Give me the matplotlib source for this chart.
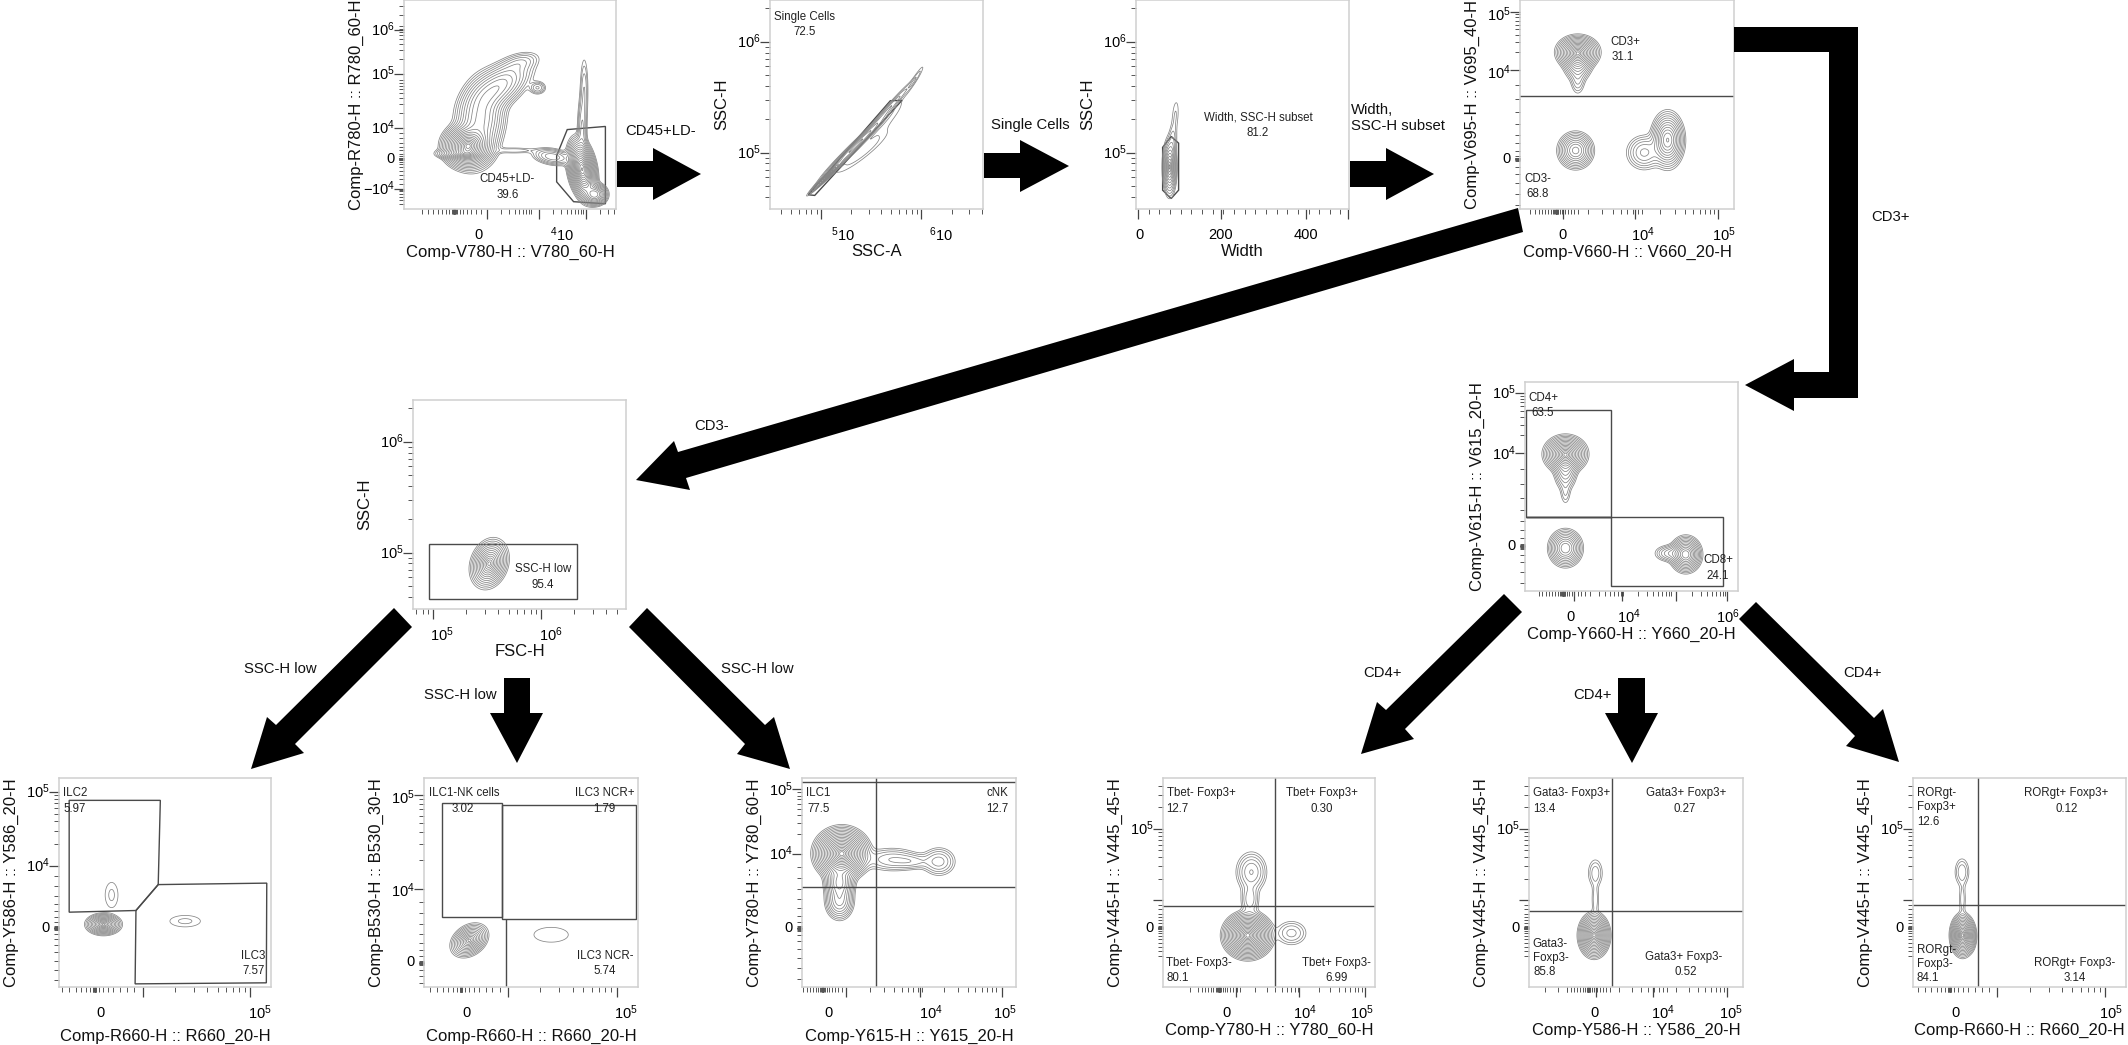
import numpy as np
import matplotlib
matplotlib.use('Agg')
import matplotlib.pyplot as plt
from matplotlib.patches import Polygon

W, H = 2128, 1045
plt.rcParams['font.family'] = ['Liberation Sans', 'DejaVu Sans']
plt.rcParams['mathtext.fontset'] = 'custom'
plt.rcParams['mathtext.rm'] = 'Liberation Sans'

E4, E5, E6 = r'$\mathregular{10^{4}}$', r'$\mathregular{10^{5}}$', r'$\mathregular{10^{6}}$'
E4L, E5L, E6L = r'$\mathregular{^{4}10}$', r'$\mathregular{^{5}10}$', r'$\mathregular{^{6}10}$'
NEG4 = '\u2212' + E4

# populations: centre x, centre y, spread x, spread y, weight, correlation
P1_POPS = [(.27, .265, .05, .012, .2, 0), (.30, .30, .045, .04, 1.0, 0), (.36, .42, .05, .09, .25, .2),
           (.44, .58, .07, .06, .22, .6), (.63, .58, .02, .016, .05, 0), (.55, .70, .045, .025, .035, .4),
           (.85, .57, .011, .09, .03, 0), (.84, .37, .012, .09, .05, 0), (.84, .19, .026, .055, 1.0, -.3),
           (.90, .07, .025, .022, .35, 0), (.70, .25, .045, .02, .09, -.3), (.52, .28, .06, .009, .02, 0)]
P2_POPS = [(.27, .16, .035, .035, 1.0, .985), (.40, .30, .07, .07, .6, .985), (.55, .47, .06, .07, .2, .985),
           (.68, .62, .025, .04, .06, .96), (.43, .27, .08, .065, .06, .93), (.55, .42, .07, .08, .03, .95)]
P3_POPS = [(.158, .20, .013, .054, 1.0, 0), (.17, .31, .011, .05, .12, .3), (.185, .45, .011, .05, .04, .3)]
P4_POPS = [(.27, .75, .04, .032, 1.0, 0), (.27, .70, .03, .04, .35, 0), (.27, .61, .018, .035, .08, 0),
           (.26, .28, .035, .037, .60, 0), (.69, .33, .032, .055, .80, 0), (.58, .27, .04, .04, .20, 0)]
P5_POPS = [(.19, .655, .04, .035, 1.0, 0), (.19, .58, .025, .045, .25, 0), (.19, .47, .014, .035, .05, 0),
           (.19, .205, .033, .037, .60, 0), (.755, .175, .03, .035, .80, 0), (.68, .18, .035, .02, .15, 0)]
P6_POPS = [(.358, .217, .034, .045, 1.0, .2)]
B1_POPS = [(.21, .30, .026, .016, 1.0, 0), (.248, .44, .021, .042, .007, 0), (.595, .315, .05, .019, .007, 0)]
B2_POPS = [(.212, .223, .026, .024, 1.0, .3), (.594, .25, .068, .03, .004, 0)]
B3_POPS = [(.186, .638, .048, .046, 1.0, 0), (.175, .50, .03, .04, .25, 0), (.175, .41, .03, .04, .15, 0),
           (.64, .60, .04, .035, .06, 0), (.42, .61, .07, .03, .05, 0), (.52, .60, .05, .02, .03, 0)]
B4_POPS = [(.40, .247, .04, .038, 1.0, 0), (.417, .55, .034, .045, .05, 0), (.606, .258, .038, .031, .025, 0),
           (.41, .42, .022, .04, .03, 0)]
B5_POPS = [(.304, .247, .024, .035, 1.0, 0), (.31, .545, .018, .035, .02, 0), (.31, .42, .01, .05, .012, 0)]
B6_POPS = [(.233, .247, .02, .035, 1.0, 0), (.23, .55, .018, .035, .03, 0), (.232, .42, .01, .05, .015, 0),
           (.27, .24, .012, .03, .06, 0)]

# gates, panel fractions
P1_GATES = [[(.72, .255), (.77, .38), (.95, .395), (.95, .025), (.80, .035), (.72, .13)]]
P2_GATES = [[(.18, .068), (.21, .065), (.62, .52), (.565, .518)]]
P3_GATES = [[(.125, .295), (.125, .09), (.165, .05), (.20, .09), (.20, .315), (.165, .347)]]
P5_GATES = [[(.006, .864), (.402, .864), (.402, .352), (.006, .352)],
            [(.006, .352), (.931, .352), (.931, .026), (.402, .026), (.402, .352)]]
P6_GATES = [[(.077, .313), (.771, .313), (.771, .05), (.077, .05)]]
B1_GATES = [[(.048, .893), (.478, .893), (.468, .49), (.363, .366), (.048, .358)],
            [(.468, .49), (.98, .497), (.978, .02), (.359, .015), (.363, .366)]]
B2_GATES = [[(.083, .88), (.365, .88), (.365, .333), (.083, .333)],
            [(.365, .873), (.992, .873), (.992, .323), (.365, .323)],
            [(.383, .323), (.383, 0)]]
B3_HV = ([.345], [.48, .98])
P4_HV = ([], [.54])
B4_HV = ([.528], [.386])
B5_HV = ([.388], [.365])
B6_HV = ([.307], [.393])

# tick layout per panel: zero position, major ticks, decade length
P1_X = (.238, [.39, .636, .859], .22)
P1_Y = (.24, [.387, .646, .857, .095], .24)
P2_X = (None, [.24, .711], .47)
P2_Y = (None, [.27, .80], .53)
P4_X = (.17, [.20, .537, .925], .388)
P4_Y = (.24, [.666, .944], .278)
P5_X = (.18, [.232, .457, .711, .949], .24)
P5_Y = (.214, [.659, .947], .288)
P6_X = (None, [.094, .602], .508)
B1_X = (.168, [.395, .90], .505)
B1_Y = (.282, [.58, .933], .353)
B2_X = (.173, [.392, .90], .505)
B2_Y = (.115, [.47, .92], .45)
B3_X = (.096, [.207, .552, .933], .37)
B3_Y = (.28, [.638, .946], .308)
B4_X = (.265, [.343, .642, .954], .31)
FOX_Y = (.282, [.415, .757], .342)
B5_X = (.278, [.315, .581, .927], .346)
B6_X = (.172, [.396, .90], .504)

# tick labels
P1_XL = [(.35, '0'), (.743, E4L)]
P1_YL = [(.857, E6), (.646, E5), (.387, E4), (.24, '0'), (.095, NEG4)]
P2_XL = [(.345, E5L), (.805, E6L)]
P2_YL = [(.80, E6), (.27, E5)]
P3_XL = [(.015, '0'), (.397, '200'), (.80, '400')]
P4_XL = [(.20, '0'), (.573, E4), (.952, E5)]
P4_YL = [(.93, E5), (.65, E4), (.24, '0')]
P5_XL = [(.212, '0'), (.49, E4), (.953, E6)]
P5_YL = [(.947, E5), (.659, E4), (.214, '0')]
P6_XL = [(.136, E5), (.649, E6)]
B1_XL = [(.195, '0'), (.947, E5)]
B1_YL = [(.933, E5), (.58, E4), (.282, '0')]
B2_XL = [(.20, '0'), (.944, E5)]
B2_YL = [(.905, E5), (.46, E4), (.12, '0')]
B3_XL = [(.123, '0'), (.60, E4), (.95, E5)]
B3_YL = [(.946, E5), (.638, E4), (.28, '0')]
B4_XL = [(.30, '0'), (.67, E4), (.94, E5)]
FOX_YL = [(.757, E5), (.282, '0')]
B5_XL = [(.306, '0'), (.625, E4), (.945, E5)]
B6_XL = [(.198, '0'), (.93, E5)]

# gate captions: x, y, text
P1_TXT = [(.488, .145, 'CD45+LD-'), (.488, .068, '39.6')]
P2_TXT = [(.161, .92, 'Single Cells'), (.161, .849, '72.5')]
P3_TXT = [(.573, .438, 'Width, SSC-H subset'), (.573, .363, '81.2')]
P4_TXT = [(.493, .798, 'CD3+'), (.478, .725, '31.1'), (.084, .145, 'CD3-'), (.084, .072, '68.8')]
P5_TXT = [(.087, .923, 'CD4+'), (.084, .851, '63.5'), (.906, .147, 'CD8+'), (.902, .07, '24.1')]
P6_TXT = [(.613, .19, 'SSC-H low'), (.609, .115, '95.4')]
B1_TXT = [(.078, .927, 'ILC2'), (.076, .85, '5.97'), (.916, .148, 'ILC3'), (.916, .075, '7.57')]
B2_TXT = [(.1875, .927, 'ILC1-NK cells'), (.181, .85, '3.02'), (.844, .927, 'ILC3 NCR+'), (.842, .85, '1.79'),
          (.848, .148, 'ILC3 NCR-'), (.844, .075, '5.74')]
B3_TXT = [(.077, .927, 'ILC1'), (.077, .85, '77.5'), (.914, .927, 'cNK'), (.914, .85, '12.7')]
B4_TXT = [(.179, .927, 'Tbet- Foxp3+'), (.069, .85, '12.7'), (.749, .927, 'Tbet+ Foxp3+'), (.749, .85, '0.30'),
          (.17, .117, 'Tbet- Foxp3-'), (.069, .043, '80.1'), (.817, .117, 'Tbet+ Foxp3-'), (.817, .043, '6.99')]
B5_TXT = [(.197, .927, 'Gata3- Foxp3+'), (.074, .85, '13.4'), (.735, .927, 'Gata3+ Foxp3+'), (.727, .85, '0.27'),
          (.10, .204, 'Gata3-'), (.104, .139, 'Foxp3-'), (.072, .072, '85.8'),
          (.722, .145, 'Gata3+ Foxp3-'), (.733, .072, '0.52')]
B6_TXT = [(.111, .927, 'RORgt-'), (.109, .86, 'Foxp3+'), (.074, .79, '12.6'), (.72, .927, 'RORgt+ Foxp3+'),
          (.72, .85, '0.12'), (.111, .175, 'RORgt-'), (.102, .108, 'Foxp3-'), (.07, .043, '84.1'),
          (.759, .117, 'RORgt+ Foxp3-'), (.759, .043, '3.14')]

# arrows, in figure pixels
ARROWS = [
    [(617, 161), (653, 161), (653, 148), (701, 174), (653, 200), (653, 187), (617, 187)],
    [(984, 153), (1020, 153), (1020, 140), (1069, 166), (1020, 192), (1020, 178), (984, 178)],
    [(1350, 161), (1386, 161), (1386, 148), (1434, 174), (1386, 200), (1386, 187), (1350, 187)],
    [(1734, 27), (1858, 27), (1858, 398), (1794, 398), (1794, 411), (1745, 385), (1794, 359), (1794, 372),
     (1829, 372), (1829, 52), (1734, 52)],
    [(1518, 208), (678, 452), (674, 441), (636, 480), (690, 490), (686, 478), (1523, 232)],
    [(394, 608), (276, 725), (267, 717), (251, 769), (304, 753), (295, 744), (412, 627)],
    [(504, 678), (530, 678), (530, 713), (543, 713), (517, 763), (490, 713), (504, 713)],
    [(647, 608), (765, 725), (774, 717), (790, 769), (737, 754), (745, 744), (629, 627)],
    [(1504, 594), (1386, 710), (1377, 702), (1361, 754), (1414, 739), (1405, 729), (1522, 612)],
    [(1618, 678), (1645, 678), (1645, 713), (1658, 713), (1632, 763), (1605, 713), (1618, 713)],
    [(1756, 602), (1874, 718), (1883, 709), (1899, 762), (1846, 746), (1855, 736), (1739, 619)],
]
FLOW_TEXT = [(661, 131, 'CD45+LD-'), (1030, 125, 'Single Cells'), (1891, 217, 'CD3+'), (712, 426, 'CD3-'),
             (280, 669, 'SSC-H low'), (460, 695, 'SSC-H low'), (757, 669, 'SSC-H low'),
             (1382, 673, 'CD4+'), (1593, 695, 'CD4+'), (1862, 673, 'CD4+')]

fig = plt.figure(figsize=(W / 100, H / 100), dpi=100)
grid = np.linspace(0, 1, 500)
gx, gy = np.meshgrid(grid, grid)


def density(pops):
    z = np.zeros_like(gx)
    for cx, cy, sx, sy, w, r in pops:
        dx, dy = (gx - cx) / sx, (gy - cy) / sy
        z += w * np.exp(-(dx ** 2 - 2 * r * dx * dy + dy ** 2) / (2 * (1 - r ** 2)))
    return z


def ring_levels(lo, n):
    # rings evenly spaced in radius, outermost at lo
    rmax = np.sqrt(2 * np.log(1 / lo))
    r = rmax * np.linspace(.07, 1, n)[::-1]
    return np.exp(-r ** 2 / 2)


def tick_positions(spec):
    zero, maj, span = spec
    minor = []
    low = min(maj)
    for d in [low - span] + list(maj):
        minor += [d + span * np.log10(k) for k in range(2, 10)]
    rug = []
    if zero is not None:
        first = min(m for m in maj if m > zero)
        reach = max(first - zero, .1)
        minor = [p for p in minor if p > first or p < zero - reach]
        rug = [zero + s * reach * (i / 9) ** 1.6 for i in range(10) for s in (-1, 1)]
        rug += [zero + d for d in (-.006, -.004, -.002, 0, .002, .004, .006)]
    keep = lambda seq: [p for p in seq if 0.004 < p < .996]
    return keep(maj), keep(minor + rug)


def panel(box, xlabel, ylabel, xspec, yspec, xticklab, yticklab, pops, texts, gates=(), hv=([], []),
          lo=.02, n=14, xlab_off=43, xminor=None):
    x0, x1, y0, y1 = box
    ax = fig.add_axes([x0 / W, 1 - y1 / H, (x1 - x0) / W, (y1 - y0) / H])
    ax.set_xlim(0, 1)
    ax.set_ylim(0, 1)
    for s in ax.spines.values():
        s.set_color('#cfcfcf')
        s.set_linewidth(1.1)

    z = density(pops)
    ax.contour(gx, gy, z / z.max(), levels=ring_levels(lo, n), colors='#858585', linewidths=.55)

    for g in gates:
        closed = len(g) > 2
        ax.add_patch(Polygon(g, closed=closed, fill=False, edgecolor='#4a4a4a', linewidth=1))
    for v in hv[0]:
        ax.axvline(v, color='#4a4a4a', lw=1)
    for h in hv[1]:
        ax.axhline(h, color='#4a4a4a', lw=1)

    if xspec is None:
        xmaj, xmin = [.01, .397, .80, .997], list(xminor)
    else:
        xmaj, xmin = tick_positions(xspec)
    ymaj, ymin = tick_positions(yspec)
    ax.set_xticks(xmaj)
    ax.set_xticks(xmin, minor=True)
    ax.set_yticks(ymaj)
    ax.set_yticks(ymin, minor=True)
    ax.tick_params(which='major', length=7, width=.9, color='#444444', labelbottom=False, labelleft=False)
    ax.tick_params(which='minor', length=3.5, width=.7, color='#555555')

    for pos, lab in xticklab:
        ax.annotate(lab, (pos, 0), xytext=(0, -26), textcoords='offset pixels', ha='center', va='center',
                    fontsize=10.5, annotation_clip=False)
    for pos, lab in yticklab:
        ax.annotate(lab, (0, pos), xytext=(-9, 0), textcoords='offset pixels', ha='right', va='center',
                    fontsize=10.5, annotation_clip=False)
    for tx, ty, lab in texts:
        ax.text(tx, ty, lab, ha='center', va='center', fontsize=8.3, color='#222222')

    cx = (x0 + x1) / 2
    overlay.text(cx, y1 + xlab_off, xlabel, ha='center', va='center', fontsize=12, color='#111111')
    overlay.text(x0 - 48, (y0 + y1) / 2, ylabel, rotation=90, ha='center', va='center', fontsize=12, color='#111111')
    return ax


overlay = fig.add_axes([0, 0, 1, 1], zorder=5)
overlay.set_xlim(0, W)
overlay.set_ylim(H, 0)
overlay.axis('off')
for pts in ARROWS:
    overlay.add_patch(Polygon(pts, closed=True, facecolor='black', edgecolor='none'))
for tx, ty, lab in FLOW_TEXT:
    overlay.text(tx, ty, lab, ha='center', va='center', fontsize=10.7, color='#111111')
overlay.text(1351, 118, 'Width,\nSSC-H subset', ha='left', va='center', fontsize=10.7, color='#111111', linespacing=1.15)

panel((404, 616, 0, 209), 'Comp-V780-H :: V780_60-H', 'Comp-R780-H :: R780_60-H', P1_X, P1_Y, P1_XL, P1_YL,
      P1_POPS, P1_TXT, P1_GATES, lo=.008, n=20)
panel((770, 983, 0, 209), 'SSC-A', 'SSC-H', P2_X, P2_Y, P2_XL, P2_YL, P2_POPS, P2_TXT, P2_GATES, lo=.02, n=12)
panel((1136, 1349, 0, 209), 'Width', 'SSC-H', None, P2_Y, P3_XL, P2_YL, P3_POPS, P3_TXT, P3_GATES, lo=.02, n=12,
      xminor=np.arange(.06, .99, .05))
panel((1520, 1734, 0, 209), 'Comp-V660-H :: V660_20-H', 'Comp-V695-H :: V695_40-H', P4_X, P4_Y, P4_XL, P4_YL,
      P4_POPS, P4_TXT, hv=P4_HV, lo=.02, n=16)
panel((1525, 1738, 382, 591), 'Comp-Y660-H :: Y660_20-H', 'Comp-V615-H :: V615_20-H', P5_X, P5_Y, P5_XL, P5_YL,
      P5_POPS, P5_TXT, P5_GATES, lo=.02, n=16)
panel((413, 626, 400, 609), 'FSC-H', 'SSC-H', P6_X, P2_Y, P6_XL, P2_YL, P6_POPS, P6_TXT, P6_GATES, lo=.02, n=14)

panel((59, 271, 778, 987), 'Comp-R660-H :: R660_20-H', 'Comp-Y586-H :: Y586_20-H', B1_X, B1_Y, B1_XL, B1_YL,
      B1_POPS, B1_TXT, B1_GATES, lo=.0025, n=14, xlab_off=49)
panel((424, 638, 778, 987), 'Comp-R660-H :: R660_20-H', 'Comp-B530-H :: B530_30-H', B2_X, B2_Y, B2_XL, B2_YL,
      B2_POPS, B2_TXT, B2_GATES, lo=.002, n=13, xlab_off=49)
panel((802, 1016, 778, 987), 'Comp-Y615-H :: Y615_20-H', 'Comp-Y780-H :: Y780_60-H', B3_X, B3_Y, B3_XL, B3_YL,
      B3_POPS, B3_TXT, hv=B3_HV, lo=.01, n=20, xlab_off=49)
panel((1163, 1375, 778, 987), 'Comp-Y780-H :: Y780_60-H', 'Comp-V445-H :: V445_45-H', B4_X, FOX_Y, B4_XL, FOX_YL,
      B4_POPS, B4_TXT, hv=B4_HV, lo=.005, n=20)
panel((1529, 1743, 778, 987), 'Comp-Y586-H :: Y586_20-H', 'Comp-V445-H :: V445_45-H', B5_X, FOX_Y, B5_XL, FOX_YL,
      B5_POPS, B5_TXT, hv=B5_HV, lo=.004, n=17)
panel((1913, 2126, 778, 987), 'Comp-R660-H :: R660_20-H', 'Comp-V445-H :: V445_45-H', B6_X, FOX_Y, B6_XL, FOX_YL,
      B6_POPS, B6_TXT, hv=B6_HV, lo=.006, n=17)

fig.savefig('out.png', dpi=100, facecolor='white')
